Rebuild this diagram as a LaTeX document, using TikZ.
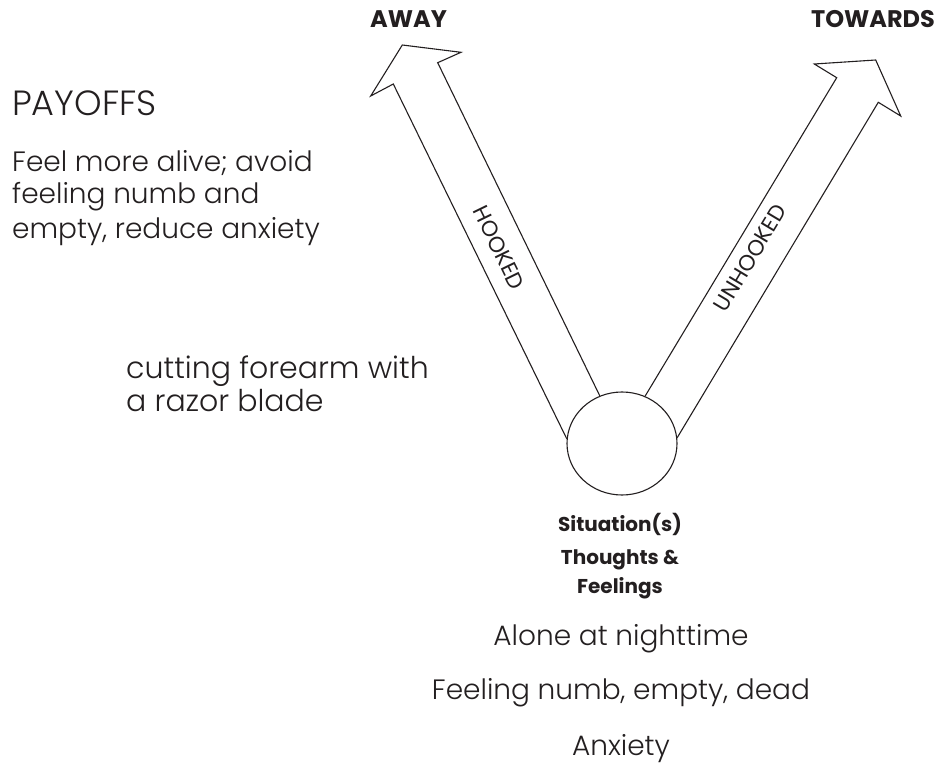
\documentclass[tikz,border=0pt]{standalone}
\usepackage{fontspec}
\setmainfont{Poppins}
\newfontfamily\hand{Poppins Light}
\usetikzlibrary{shapes.geometric}
\definecolor{ink}{RGB}{35,31,32}
\tikzset{
  outline/.style={draw=ink, line width=1.1pt, line join=miter},
  heading/.style={inner sep=0, text=ink, font=\fontsize{24}{28}\selectfont\bfseries},
  pathlabel/.style={inner sep=0, text=ink, font=\fontsize{22}{26}\selectfont},
  sitlabel/.style={inner sep=0, anchor=base, text=ink, font=\fontsize{20}{24}\selectfont\bfseries},
  script/.style={inner sep=0, anchor=base, text=ink, font=\hand\fontsize{28}{33}\selectfont},
}
\begin{document}
\begin{tikzpicture}[x=1pt, y=-1pt]
\path[use as bounding box] (0,0) rectangle (938,768);

% the choice point
\node[outline, ellipse, minimum width=110, minimum height=103, inner sep=0] (sit) at (622,443.5) {};

% away move (hooked)
\draw[outline] (sit.175) -- (393.3,84) -- (370.7,96) -- (402.3,45)
  -- (461,52.3) -- (437.7,62.7) -- (sit.115);
% towards move (unhooked)
\draw[outline] (sit.64) -- (836.7,77.7) -- (814.3,64) -- (875.7,60)
  -- (900.7,116) -- (878.3,102.3) -- (sit.6);

\node[heading] (away) at (408.5,19) {AWAY};
\node[heading] (towards) at (873,19) {TOWARDS};

\node[pathlabel, rotate=-64] (hooked) at (499,248) {HOOKED};
\node[pathlabel, rotate=59] (unhooked) at (750,258) {UNHOOKED};

% situation label
\node[sitlabel] (s1) at (620,531) {Situation(s)};
\node[sitlabel] (s2) at (620,564) {Thoughts \&};
\node[sitlabel] (s3) at (620,593) {Feelings};

% handwritten notes
\node[script, anchor=base west, font=\hand\fontsize{35}{40}\selectfont] (pay) at (12,115) {PAYOFFS};
\node[script, anchor=base west] (p1) at (12,171.7) {Feel more alive; avoid};
\node[script, anchor=base west] (p2) at (12,203) {feeling numb and};
\node[script, anchor=base west] (p3) at (12,238) {empty, reduce anxiety};

\node[script, anchor=base west, font=\hand\fontsize{30}{34}\selectfont] (c1) at (126,378) {cutting forearm with};
\node[script, anchor=base west, font=\hand\fontsize{30}{34}\selectfont] (c2) at (126,411) {a razor blade};

\node[script] (t1) at (621,645.7) {Alone at nighttime};
\node[script] (t2) at (621,699) {Feeling numb, empty, dead};
\node[script] (t3) at (621,755) {Anxiety};
\end{tikzpicture}
\end{document}
